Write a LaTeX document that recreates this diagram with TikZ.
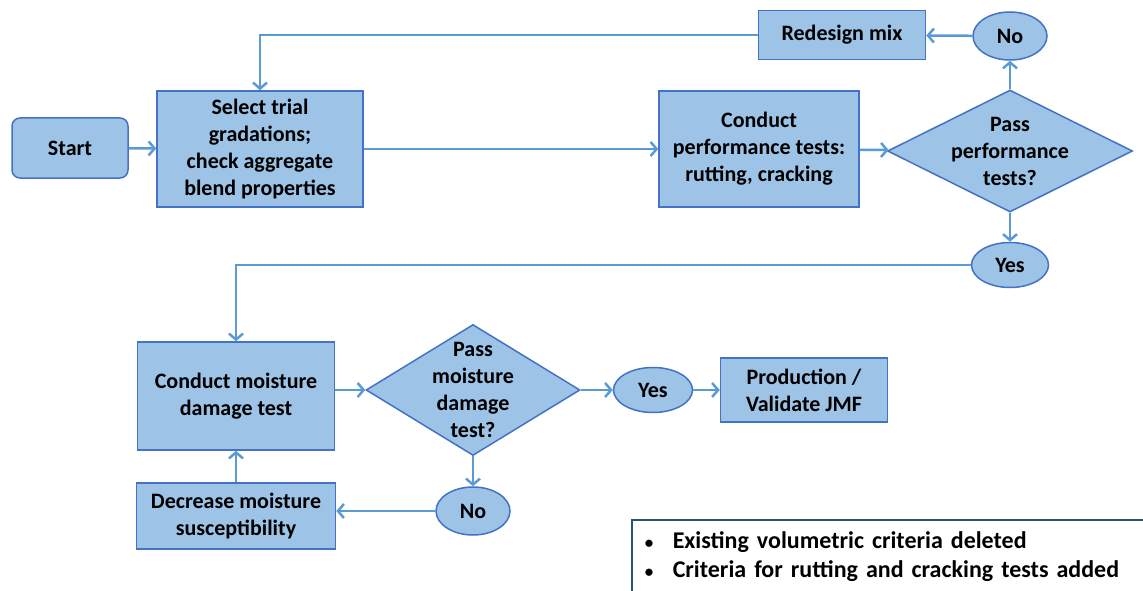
\documentclass[tikz,border=0pt]{standalone}
\usepackage{fontspec}
\setmainfont{Carlito}
\usetikzlibrary{shapes.geometric, arrows.meta}
\definecolor{boxfill}{HTML}{9DC3E6}
\definecolor{boxline}{HTML}{4472C4}
\definecolor{flowline}{HTML}{5B9BD5}
\definecolor{noteline}{HTML}{2F4F73}
\tikzset{>={Straight Barb[length=6pt,width=14pt]}}
\tikzset{
  stepbox/.style={draw=boxline, fill=boxfill, line width=1.5pt, align=center,
    font=\fontsize{22}{27}\selectfont\bfseries, inner sep=0pt},
  decision/.style={stepbox, diamond, inner sep=-10pt},
  answer/.style={stepbox, ellipse},
  flow/.style={draw=flowline, line width=2.5pt, ->},
}
\newcommand{\notebullet}{\makebox[28pt][l]{\fontsize{17}{17}\selectfont\textbullet}}

\begin{document}
\begin{tikzpicture}[x=1pt, y=-1pt]
	\useasboundingbox (0,0) rectangle (1143,591);
	% first row
	\node[stepbox, rounded corners=8pt, minimum width=116pt, minimum height=60pt] (start) at (70,148) {Start};
	\node[stepbox, minimum width=206pt, minimum height=116pt] (select) at (260,149) {Select trial\\gradations;\\check aggregate\\blend properties};
	\node[stepbox, minimum width=200pt, minimum height=116pt] (perf) at (759,149) {Conduct\\performance tests:\\rutting, cracking};
	\node[decision, shape aspect=2, minimum width=245pt, minimum height=122pt] (passperf) at (1010,151) {Pass\\performance\\tests?};
	\node[answer, minimum width=74pt, minimum height=48pt] (notop) at (1010,36) {No};
	\node[stepbox, minimum width=167pt, minimum height=49pt] (redesign) at (842,35) {Redesign mix};
	\node[answer, minimum width=77pt, minimum height=45pt] (yestop) at (1010,265) {Yes};
	% second row
	\node[stepbox, minimum width=197pt, minimum height=108pt] (moist) at (236,396) {Conduct moisture\\damage test};
	\node[decision, shape aspect=1.63, minimum width=214pt, minimum height=131pt] (passmoist) at (473,390) {Pass\\moisture\\damage\\test?};
	\node[answer, minimum width=79pt, minimum height=45pt] (yesbot) at (653,390) {Yes};
	\node[stepbox, minimum width=167pt, minimum height=64pt] (prod) at (804,390) {Production /\\Validate JMF};
	\node[answer, minimum width=74pt, minimum height=48pt] (nobot) at (473,511) {No};
	\node[stepbox, minimum width=199pt, minimum height=66pt] (decrease) at (236,516) {Decrease moisture\\susceptibility};
	% connectors
	\draw[flow] (start) -- (select);
	\draw[flow] (select) -- (perf);
	\draw[flow] (perf) -- (passperf);
	\draw[flow] (passperf) -- (notop);
	\draw[flow] (notop) -- (redesign);
	\draw[flow] (redesign.west) -| (select.north);
	\draw[flow] (passperf) -- (yestop);
	\draw[flow] (yestop.west) -| (moist.north);
	\draw[flow] (moist.east |- passmoist) -- (passmoist.west);
	\draw[flow] (passmoist) -- (yesbot);
	\draw[flow] (yesbot) -- (prod);
	\draw[flow] (passmoist) -- (nobot);
	\draw[flow] (nobot) -- (decrease.east |- nobot);
	\draw[flow] (decrease) -- (moist);
	% notes
	\begin{scope}
		\clip (0,0) rectangle (1143,591);
		\node[draw=noteline, fill=white, line width=1.5pt, anchor=north west,
			align=left, inner xsep=13pt, inner ysep=12pt, text width=540pt, text depth=40pt,
			font=\fontsize{24}{29}\selectfont\bfseries] (notes) at (631,519)
			{\notebullet Existing volumetric criteria deleted\\
			 \notebullet Criteria for rutting and cracking tests added};
	\end{scope}
\end{tikzpicture}
\end{document}
